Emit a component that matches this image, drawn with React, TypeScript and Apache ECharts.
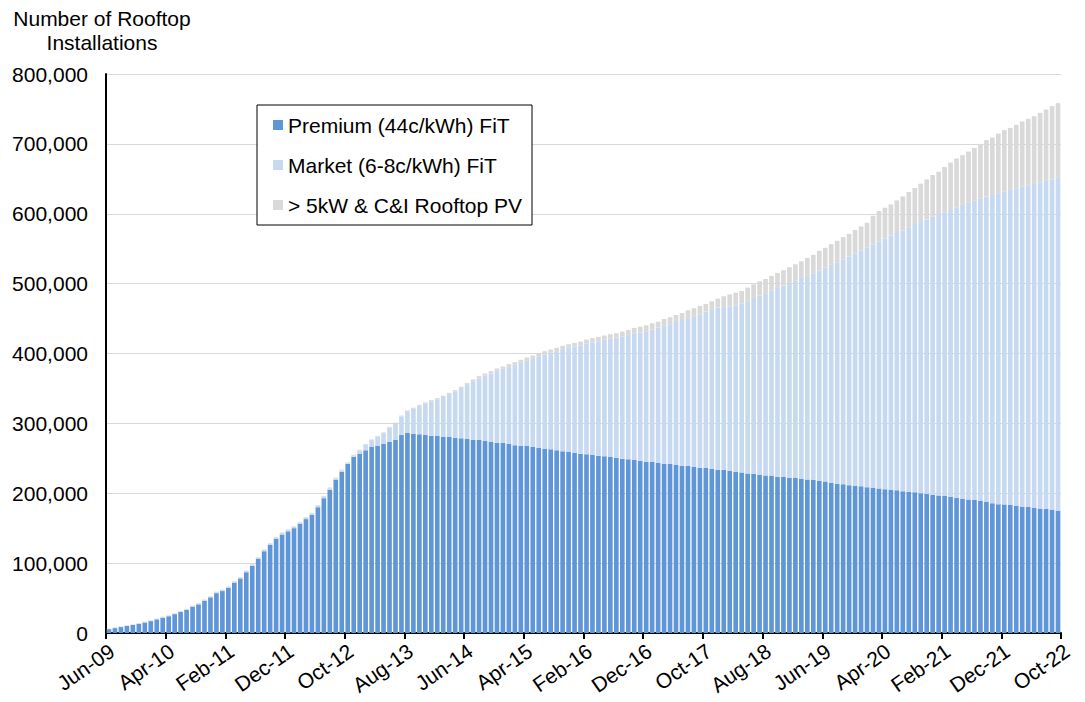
import React, { useEffect, useRef } from "react";
import * as echarts from "echarts";

// Monthly cumulative rooftop installations, Jun-09 .. Sep-22 (160 bars)
const premium: number[] = [
  5500, 7000, 8500, 10000, 11500, 13000, 15000, 17000, 19500, 22000,
  24000, 27000, 30000, 33000, 37500, 41000, 46000, 51000, 57000, 60000,
  64500, 72000, 78000, 87000, 96000, 106000, 117000, 126000, 135000, 141000,
  145500, 150000, 156000, 163000, 169000, 180000, 193000, 205000, 219000, 230500,
  242000, 252400, 256700, 261400, 266200, 268000, 270500, 273300, 276700, 283300,
  286200, 284800, 284300, 283300, 282400, 281900, 281000, 280500, 279500, 278600,
  278000, 276700, 276200, 274800, 273300, 272400, 271900, 270500, 268600, 268100,
  267600, 266200, 264800, 263300, 262900, 261400, 260000, 259000, 257600, 256700,
  255700, 254800, 253800, 252900, 251900, 250500, 249500, 248600, 247800, 246500,
  245000, 244600, 243200, 242200, 241800, 240300, 239400, 238900, 237500, 236500,
  236000, 234600, 233200, 233200, 231700, 230800, 229800, 228400, 227400, 226000,
  225500, 224600, 223600, 223200, 222200, 221700, 220300, 219800, 218800, 217600,
  216800, 214900, 213500, 213000, 211600, 210600, 210100, 208700, 207700, 206800,
  205800, 204900, 204400, 202900, 202000, 201500, 200100, 199100, 197900, 196700,
  196200, 194800, 193300, 191900, 190900, 190400, 189000, 187600, 185700, 184200,
  183800, 183300, 181900, 180900, 180400, 179000, 178100, 177600, 176600, 175200,
];

const market: number[] = [
  500, 600, 500, 700, 600, 800, 700, 900, 800, 1000,
  900, 1000, 1100, 1000, 1200, 1100, 1300, 1200, 1400, 1300,
  1400, 1500, 1400, 1600, 1500, 1700, 1600, 1800, 1700, 1900,
  1800, 1900, 2000, 1900, 2100, 2000, 2200, 2100, 2300, 2200,
  1000, 2000, 4700, 8100, 9800, 13000, 15500, 20500, 23300, 26700,
  31200, 36300, 41000, 45200, 49300, 52600, 56700, 61400, 66100, 71700,
  76800, 82800, 88100, 93300, 98100, 102800, 106200, 110000, 115200, 119500,
  121900, 126200, 130400, 135300, 138100, 141900, 146200, 149600, 152400, 154700,
  158600, 160900, 163800, 166600, 169100, 172400, 174800, 177600, 180900, 183300,
  186700, 189500, 193800, 197700, 200000, 204800, 208600, 211500, 215700, 219600,
  223900, 228600, 232400, 232900, 235300, 237700, 241600, 246300, 253000, 256800,
  260200, 265400, 270200, 273900, 278800, 283100, 287800, 291700, 295600, 300900,
  306300, 312000, 317200, 322000, 327200, 332500, 336900, 342600, 348300, 353500,
  358800, 364000, 367900, 373200, 377900, 382300, 388000, 392800, 398100, 402200,
  405900, 410600, 416000, 420700, 425100, 428400, 432700, 436900, 441200, 445100,
  447900, 450800, 454600, 458000, 460400, 463700, 467000, 469400, 472300, 476100,
];

const larger: number[] = [
  300, 300, 400, 300, 400, 400, 500, 400, 500, 500,
  500, 600, 500, 600, 600, 700, 600, 700, 700, 800,
  700, 800, 800, 800, 900, 800, 900, 900, 1000, 900,
  1000, 1000, 1000, 1100, 1000, 1100, 1100, 1200, 1100, 1200,
  1200, 900, 1000, 1100, 1000, 1100, 1100, 1200, 1100, 1200,
  1200, 1300, 1400, 1500, 1600, 1700, 1800, 1900, 2000, 2100,
  2800, 3400, 3300, 3300, 3400, 3400, 3300, 4300, 3800, 3400,
  4800, 4700, 4800, 4700, 4700, 4800, 4800, 4700, 5200, 5700,
  5700, 6200, 6200, 6200, 6600, 6100, 7100, 7600, 7900, 8600,
  8600, 9100, 8600, 9500, 10000, 10000, 10000, 11400, 11500, 11900,
  11000, 11500, 12900, 15800, 17700, 18600, 18100, 19600, 18600, 20500,
  21000, 21000, 21500, 22000, 22400, 22900, 23900, 25300, 26700, 28500,
  28200, 29600, 30600, 31600, 32500, 33500, 34800, 35800, 41100, 43500,
  44000, 44500, 46800, 48700, 51200, 53000, 54900, 57300, 59500, 61200,
  64900, 67900, 69700, 71200, 73000, 75500, 78300, 80800, 82200, 85500,
  87900, 88800, 90700, 93100, 95000, 96900, 99300, 102200, 105100, 107000,
];

const tickLabels: string[] = [
  "Jun-09", "Apr-10", "Feb-11", "Dec-11", "Oct-12", "Aug-13", "Jun-14", "Apr-15",
  "Feb-16", "Dec-16", "Oct-17", "Aug-18", "Jun-19", "Apr-20", "Feb-21", "Dec-21", "Oct-22",
];

const seriesNames: string[] = [
  "Premium (44c/kWh) FiT",
  "Market (6-8c/kWh) FiT",
  "> 5kW & C&I Rooftop PV",
];

const MONTHS = ["Jan", "Feb", "Mar", "Apr", "May", "Jun", "Jul", "Aug", "Sep", "Oct", "Nov", "Dec"];
function monthLabel(i: number): string {
  const m = (5 + i) % 12;
  const y = 2009 + Math.floor((5 + i) / 12);
  return MONTHS[m] + "-" + String(y % 100).padStart(2, "0");
}

const barCats = premium.map((_, i) => monthLabel(i));
const axisCats = Array.from({ length: premium.length + 1 }, (_, i) =>
  i % 10 === 0 ? tickLabels[i / 10] : monthLabel(i)
);

const FONT = "'Liberation Sans', Arial, Helvetica, sans-serif";
const COLORS = ["#5f96d7", "#c6d9f1", "#d9d9d9"];

export default function App() {
  const ref = useRef<HTMLDivElement>(null);
  useEffect(() => {
    if (!ref.current) return;
    const chart = echarts.init(ref.current, undefined, { renderer: "svg" });
    const data = [premium, market, larger];
    chart.setOption({
      animation: false,
      textStyle: { fontFamily: FONT },
      color: COLORS,
      grid: { left: 106, right: 24, top: 74, bottom: 69, containLabel: false },
      legend: {
        orient: "vertical",
        left: 257,
        top: 105,
        padding: [9, 10, 9, 16],
        itemGap: 18,
        itemWidth: 10,
        itemHeight: 10,
        icon: "rect",
        borderColor: "#000",
        borderWidth: 1,
        backgroundColor: "#fff",
        textStyle: { fontSize: 21, color: "#000", lineHeight: 22, fontFamily: FONT },
        data: seriesNames,
      },
      graphic: [
        {
          type: "text",
          x: 102,
          y: 6,
          style: {
            text: "Number of Rooftop\nInstallations",
            font: "21px " + FONT,
            fill: "#000",
            align: "center",
            verticalAlign: "top",
            lineHeight: 24,
          },
        },
      ],
      xAxis: [
        { type: "category", data: barCats, show: false },
        {
          type: "category",
          data: axisCats,
          boundaryGap: false,
          position: "bottom",
          axisLine: { show: true, lineStyle: { color: "#000", width: 2 } },
          axisTick: { show: true, interval: 9, length: 6, lineStyle: { color: "#000", width: 2 } },
          axisLabel: {
            interval: 9,
            rotate: 35,
            color: "#000",
            fontSize: 21,
            margin: 7,
            verticalAlign: "top",
            fontFamily: FONT,
          },
          splitLine: { show: false },
        },
      ],
      yAxis: {
        type: "value",
        min: 0,
        max: 800000,
        interval: 100000,
        axisLine: { show: true, lineStyle: { color: "#000", width: 2 } },
        axisTick: { show: false },
        axisLabel: {
          color: "#000",
          fontSize: 21,
          margin: 18,
          fontFamily: FONT,
          formatter: (v: number) => v.toLocaleString("en-US"),
        },
        splitLine: { lineStyle: { color: "#d9d9d9", width: 1 } },
      },
      series: seriesNames.map((name, k) => ({
        name,
        type: "bar",
        stack: "total",
        xAxisIndex: 0,
        barCategoryGap: "22%",
        itemStyle: { color: COLORS[k] },
        emphasis: { disabled: true },
        data: data[k],
      })),
    });
    return () => chart.dispose();
  }, []);
  return (
    <div
      ref={ref}
      style={{ position: "fixed", left: 0, top: 0, width: 1085, height: 702, background: "#fff" }}
    />
  );
}
